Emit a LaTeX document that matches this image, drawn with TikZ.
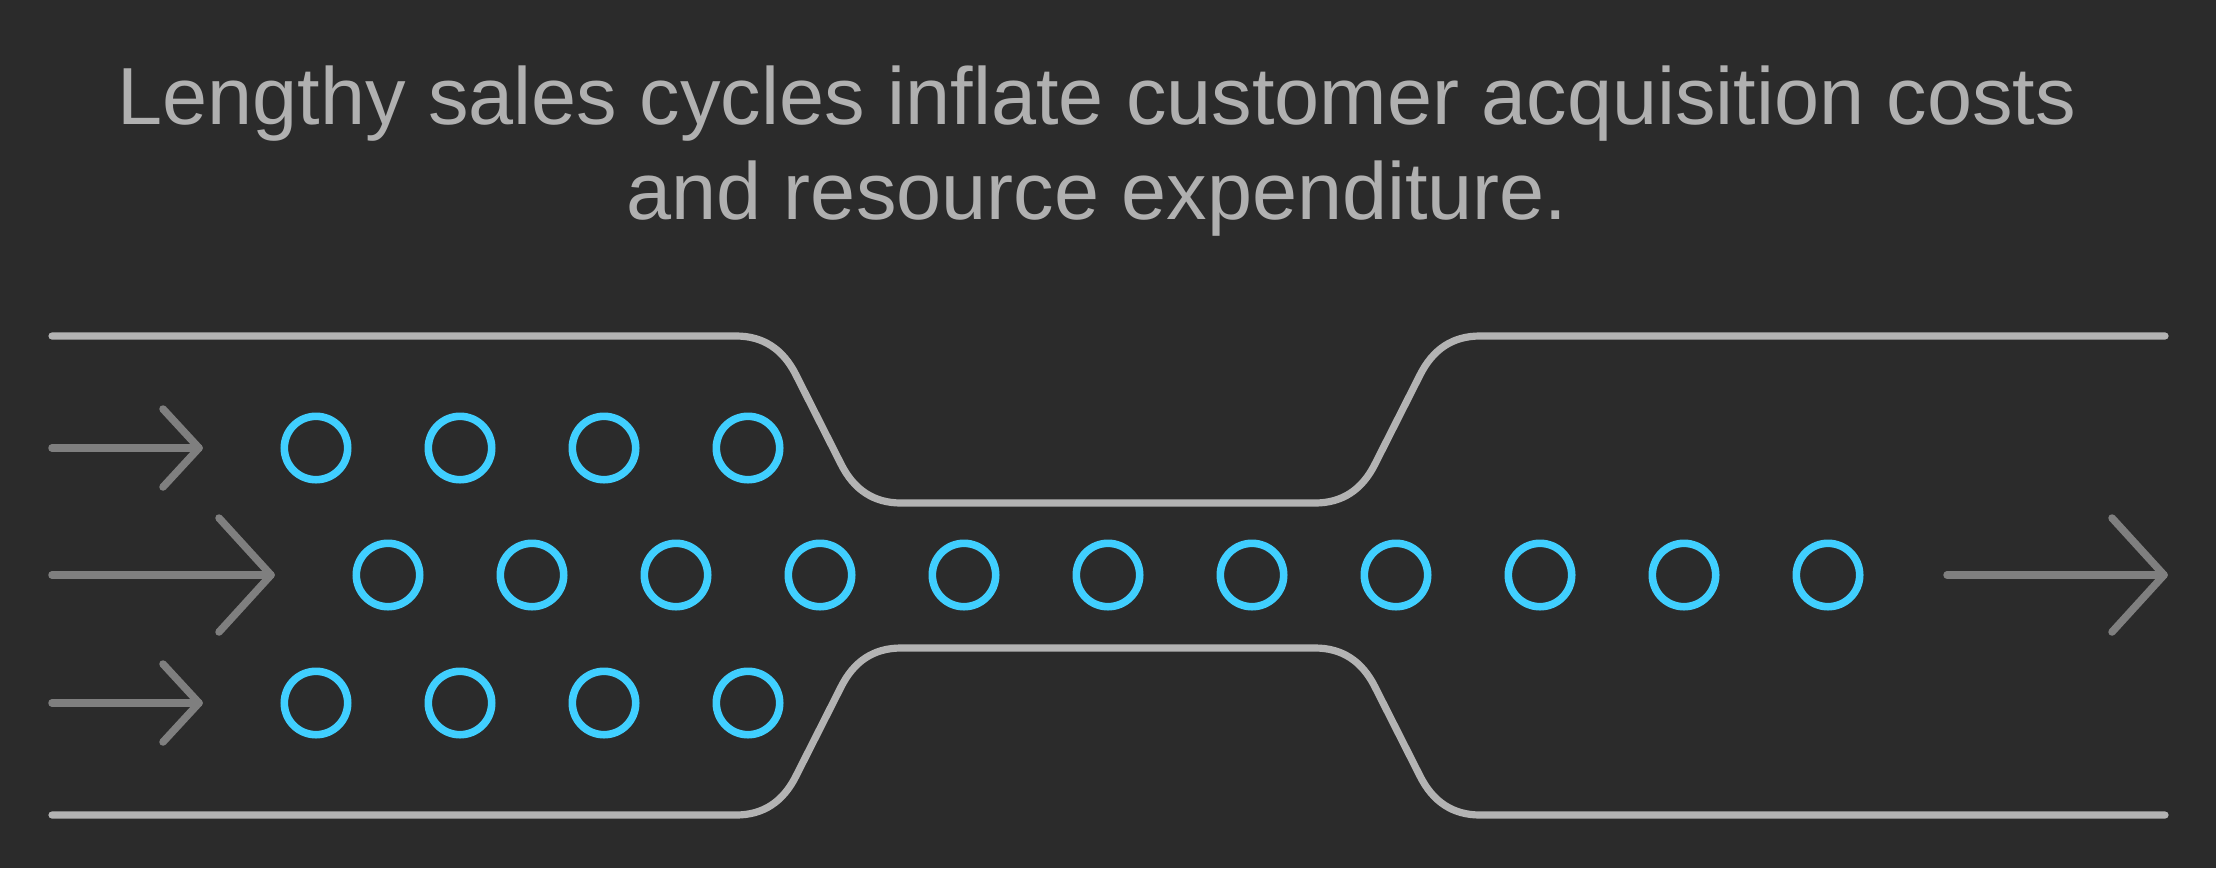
\documentclass[tikz,border=0pt]{standalone}
\usepackage{fontspec}
\setmainfont{Liberation Sans}
\usepackage{xcolor}
\usetikzlibrary{positioning}
\definecolor{bgdark}{HTML}{2B2B2B}
\definecolor{pipegray}{HTML}{B3B3B3}
\definecolor{arrowgray}{HTML}{7F7F7F}
\definecolor{titlegray}{HTML}{B0B0B0}
\definecolor{beadblue}{RGB}{64,207,255}

\tikzset{
  pipe/.style={draw=pipegray,line width=3.6pt,line cap=round,line join=round},
  flow/.style={draw=arrowgray,line width=3.75pt,line cap=round,line join=round},
  bead/.style={circle,draw=beadblue,line width=3.8pt,minimum size=31.7pt,inner sep=0pt},
  headline/.style={text=titlegray,font=\fontsize{40.5}{46}\selectfont,anchor=base,inner sep=0pt}
}

\begin{document}
\begin{tikzpicture}[x=0.5pt,y=-0.5pt]
  % canvas
  \fill[bgdark] (0,0) rectangle (2216,868);
  \useasboundingbox (0,0) rectangle (2216,868);

  % title
  \node[headline] (line1) at (1097,124) {Lengthy sales cycles inflate customer acquisition costs};
  \node[headline] (line2) at (1097,219) {and resource expenditure.};

  % pipe walls
  \draw[pipe] (52,336) -- (736,336) .. controls (763,336) and (783,349) .. (796,375)
    -- (841,464) .. controls (854,490) and (874,503) .. (901,503)
    -- (1315,503) .. controls (1342,503) and (1362,490) .. (1375,464)
    -- (1420,375) .. controls (1433,349) and (1453,336) .. (1480,336) -- (2165,336);
  \draw[pipe] (52,815) -- (736,815) .. controls (763,815) and (783,802) .. (796,776)
    -- (841,687) .. controls (854,661) and (874,648) .. (901,648)
    -- (1315,648) .. controls (1342,648) and (1362,661) .. (1375,687)
    -- (1420,776) .. controls (1433,802) and (1453,815) .. (1480,815) -- (2165,815);

  % incoming arrows
  \draw[flow] (52,448) -- (199,448);
  \draw[flow] (163,409) -- (199,448) -- (163,487);
  \draw[flow] (52,575) -- (271,575);
  \draw[flow] (219,518) -- (271,575) -- (219,632);
  \draw[flow] (52,703) -- (199,703);
  \draw[flow] (163,664) -- (199,703) -- (163,742);

  % outgoing arrow
  \draw[flow] (1947,575) -- (2164,575);
  \draw[flow] (2112,518) -- (2164,575) -- (2112,632);

  % beads
  \foreach \i in {1,...,4} {
    \node[bead] (top\i) at ({316+144*(\i-1)},448) {};
    \node[bead] (bot\i) at ({316+144*(\i-1)},703) {};
  }
  \foreach \i in {1,...,11}
    \node[bead] (mid\i) at ({388+144*(\i-1)},575) {};
\end{tikzpicture}
\end{document}
